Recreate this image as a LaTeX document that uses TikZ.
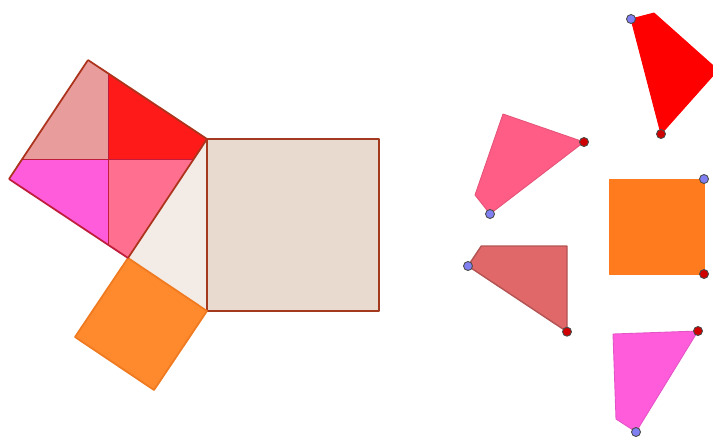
\documentclass[tikz,border=0pt]{standalone}
\usepackage{tikz}
\usetikzlibrary{calc}
\definecolor{hypfill}{HTML}{E9DAD0}
\definecolor{hypline}{HTML}{A3391F}
\definecolor{trifill}{HTML}{F3EBE6}
\definecolor{orangefill}{HTML}{FF8A2E}
\definecolor{orangeline}{HTML}{F07A20}
\definecolor{orangemoved}{HTML}{FF7B1E}
\definecolor{tlfill}{HTML}{E89C9C}
\definecolor{tlmoved}{HTML}{E06868}
\definecolor{trfill}{HTML}{FF1A1A}
\definecolor{blfill}{HTML}{FF5CDC}
\definecolor{brfill}{HTML}{FF7090}
\definecolor{brmoved}{HTML}{FF5C86}
\definecolor{cutline}{HTML}{C01C3C}
\definecolor{ptblue}{HTML}{8080F2}
\definecolor{ptred}{HTML}{D00000}
\tikzset{
piece/.style={line width=0.5pt, line join=round}, % the dissected pieces
sqedge/.style={line width=1pt, line join=round}, % outline of a square
bluept/.style={fill=ptblue, draw=black!70, line width=0.5pt}, % corner of the leg square
redpt/.style={fill=ptred, draw=black!70, line width=0.5pt}, % cut point on an edge
}

\begin{document}
\begin{tikzpicture}[x=0.02cm,y=-0.02cm]%pixel grid, y pointing down
  \useasboundingbox (0,0) rectangle (713,437);
  \clip (0,0) rectangle (713,437);

  % right triangle and the square on its hypotenuse
  \coordinate (C) at (128,258);
  \coordinate (A) at (207,139);
  \coordinate (B) at (207,311);
  \fill[trifill] (C) -- (A) -- (B) -- cycle;
  \draw[sqedge, draw=hypline, fill=hypfill] (A) rectangle (379,311);

  % square on the short leg
  \coordinate (Q1) at (154,390);
  \coordinate (Q2) at (75,337);
  \draw[sqedge, draw=orangeline, fill=orangefill] (C) -- (B) -- (Q1) -- (Q2) -- cycle;

  % square on the long leg, cut through its centre
  \coordinate (P1) at (88,60);
  \coordinate (P2) at (9,179);
  \coordinate (O) at (108,159);
  \coordinate (E1) at (108,73.3);
  \coordinate (E2) at (193.7,159);
  \coordinate (E3) at (108,244.7);
  \coordinate (E4) at (22.3,159);
  \fill[tlfill] (P1) -- (E1) -- (O) -- (E4) -- cycle;
  \fill[trfill] (E1) -- (A) -- (E2) -- (O) -- cycle;
  \fill[brfill] (O) -- (E2) -- (C) -- (E3) -- cycle;
  \fill[blfill] (E4) -- (O) -- (E3) -- (P2) -- cycle;
  \draw[piece, draw=cutline] (E1) -- (E3) (E4) -- (E2);
  \draw[sqedge, draw=hypline!90!red] (P1) -- (A) -- (C);
  \draw[sqedge, draw=cutline] (C) -- (P2);
  \draw[sqedge, draw=hypline!90!red] (P2) -- (P1);

  % the pieces moved out
  \coordinate (r1) at (631,19);
  \coordinate (r2) at (654,13);
  \coordinate (r3) at (718,70);
  \coordinate (r4) at (661,134);
  \draw[piece, draw=red, fill=red] (r1) -- (r2) -- (r3) -- (r4) -- cycle;

  \coordinate (p1) at (503,114);
  \coordinate (p2) at (584,142);
  \coordinate (p3) at (490,214);
  \coordinate (p4) at (475,195);
  \draw[piece, draw=brmoved!90!black, fill=brmoved] (p1) -- (p2) -- (p3) -- (p4) -- cycle;

  \coordinate (d1) at (468,266);
  \coordinate (d2) at (481.3,246);
  \coordinate (d3) at (567,246);
  \coordinate (d4) at (567,331.7);
  \draw[piece, line width=0.8pt, draw=tlmoved!80!black, fill=tlmoved] (d1) -- (d2) -- (d3) -- (d4) -- cycle;

  \coordinate (m1) at (636,432);
  \coordinate (m2) at (698,331);
  \coordinate (m3) at (613,334);
  \coordinate (m4) at (616,419);
  \draw[piece, draw=blfill!90!black, fill=blfill] (m1) -- (m2) -- (m3) -- (m4) -- cycle;

  \coordinate (o1) at (609,179);
  \coordinate (o2) at (704,179);
  \coordinate (o3) at (704,274);
  \coordinate (o4) at (609,274);
  \draw[piece, draw=orangemoved, fill=orangemoved] (o1) -- (o2) -- (o3) -- (o4) -- cycle;

  % points
  \foreach \p in {r1,p3,d1,m1,o2}
    \draw[bluept] (\p) circle (4.5);
  \foreach \p in {r4,p2,d4,m2,o3}
    \draw[redpt] (\p) circle (4.5);
\end{tikzpicture}
\end{document}
